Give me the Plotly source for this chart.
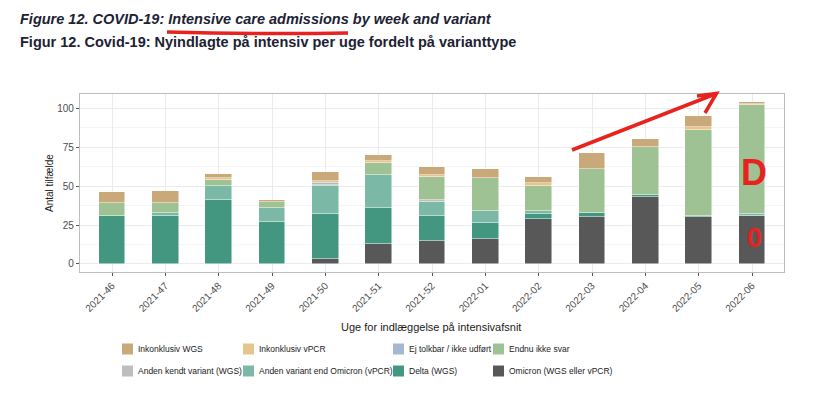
import plotly.graph_objects as go

# ---------------- data ----------------
weeks = ["2021-46", "2021-47", "2021-48", "2021-49", "2021-50", "2021-51", "2021-52",
         "2022-01", "2022-02", "2022-03", "2022-04", "2022-05", "2022-06"]

omicron     = [0, 0, 0, 0, 3, 13, 15, 16, 29, 30, 43, 30, 31]
delta       = [31, 31, 41, 27, 29, 23, 16, 10, 3, 3, 1, 1, 0]
anden_vpcr  = [0, 2, 9, 9, 18, 21, 9, 8, 2, 0, 0, 0, 1]
anden_kendt = [0, 0, 0, 0, 0, 0, 1, 0, 0, 0, 0, 0, 0]
endnu       = [8, 6, 4, 4, 1, 8, 15, 21, 16, 28, 31, 55, 70]
ej_tolkbar  = [0, 0, 0, 0, 1, 0, 0, 0, 0, 0, 0, 0, 0]
inkonk_vpcr = [0, 0, 1, 0, 1, 1, 1, 0, 2, 0, 0, 2, 1]
inkonk_wgs  = [7, 8, 3, 1, 6, 4, 5, 6, 4, 10, 5, 7, 1]

y_ticks = [0, 25, 50, 75, 100]

# stacking order bottom -> top
series = [
    ("Omicron (WGS eller vPCR)", omicron, "#585858"),
    ("Delta (WGS)", delta, "#43967F"),
    ("Anden variant end Omicron (vPCR)", anden_vpcr, "#7BB8A6"),
    ("Anden kendt variant (WGS)", anden_kendt, "#BEBEBE"),
    ("Endnu ikke svar", endnu, "#9EC294"),
    ("Ej tolkbar / ikke udført", ej_tolkbar, "#A5B7D3"),
    ("Inkonklusiv vPCR", inkonk_vpcr, "#E6C58D"),
    ("Inkonklusiv WGS", inkonk_wgs, "#C9A97A"),
]

# legend layout order (row-wise, as in reference)
legend_order = [
    "Inkonklusiv WGS", "Inkonklusiv vPCR", "Ej tolkbar / ikke udført", "Endnu ikke svar",
    "Anden kendt variant (WGS)", "Anden variant end Omicron (vPCR)", "Delta (WGS)",
    "Omicron (WGS eller vPCR)",
]

FONT = "Liberation Sans, Arial, Helvetica, sans-serif"
W, H = 835, 397
L, R, T, B = 80, 51, 94, 125
PW, PH = W - L - R, H - T - B


def px(xp):
    return (xp - L) / PW


def py(yp):
    return (H - B - yp) / PH


fig = go.Figure()
for name, vals, col in series:
    fig.add_trace(go.Bar(
        x=weeks, y=vals, name=name, width=0.5,
        marker=dict(color=col, line=dict(color="rgba(255,255,255,0.8)", width=0.6)),
        showlegend=False,
    ))

fig.update_layout(
    barmode="stack",
    width=W, height=H,
    margin=dict(l=L, r=R, t=T, b=B, pad=0),
    paper_bgcolor="white", plot_bgcolor="white",
    font=dict(family=FONT, size=10, color="#4D4D4D"),
    bargap=0,
)

fig.update_xaxes(
    type="category", range=[-0.6, 12.6],
    showgrid=True, gridcolor="#EBEBEB", gridwidth=1,
    showline=True, linecolor="#BDBDBD", linewidth=1.2, mirror=True,
    ticks="outside", ticklen=3, tickcolor="#555555", tickwidth=1,
    tickangle=-45, tickfont=dict(size=10, color="#4D4D4D"),
    zeroline=False,
)
fig.update_yaxes(
    range=[-5.2, 109.2], tickvals=y_ticks,
    showgrid=True, gridcolor="#EBEBEB", gridwidth=1,
    minor=dict(dtick=12.5, tick0=0, showgrid=True, gridcolor="#F4F4F4", gridwidth=0.6),
    showline=True, linecolor="#BDBDBD", linewidth=1.2, mirror=True,
    ticks="outside", ticklen=3, tickcolor="#555555", tickwidth=1,
    tickfont=dict(size=10, color="#4D4D4D"),
    zeroline=False,
)

ann = []
shapes = []

# titles
ann.append(dict(x=px(18), y=py(19), xref="paper", yref="paper", xanchor="left", yanchor="middle",
                text="<b><i>Figure 12. COVID-19: Intensive care admissions by week and variant</i></b>",
                showarrow=False, font=dict(family=FONT, size=14.5, color="#1C2233")))
ann.append(dict(x=px(18), y=py(42), xref="paper", yref="paper", xanchor="left", yanchor="middle",
                text="<b>Figur 12. Covid-19: Nyindlagte på intensiv per uge fordelt på varianttype</b>",
                showarrow=False, font=dict(family=FONT, size=14.5, color="#1C2233")))

# axis titles
ann.append(dict(x=px(431), y=py(327), xref="paper", yref="paper", xanchor="center", yanchor="middle",
                text="Uge for indlæggelse på intensivafsnit", showarrow=False,
                font=dict(family=FONT, size=11, color="#1A1A1A")))
ann.append(dict(x=px(49), y=py(183), xref="paper", yref="paper", xanchor="center", yanchor="middle",
                text="Antal tilfælde", textangle=-90, showarrow=False,
                font=dict(family=FONT, size=10, color="#1A1A1A")))

# manual legend
colors = {n: c for n, _, c in series}
col_x = [122, 243, 393, 493]
row_y = [349, 371]
for i, name in enumerate(legend_order):
    cx = col_x[i % 4]
    cy = row_y[i // 4]
    shapes.append(dict(type="rect", xref="paper", yref="paper",
                       x0=px(cx), x1=px(cx + 11), y0=py(cy - 5.5), y1=py(cy + 5.5),
                       fillcolor=colors[name], line=dict(width=0)))
    ann.append(dict(x=px(cx + 14), y=py(cy), xref="paper", yref="paper",
                    xanchor="left", yanchor="middle", text=name, showarrow=False,
                    font=dict(family=FONT, size=8.5, color="#1A1A1A")))

# red hand-drawn marks
RED = "#E8221E"
shapes.append(dict(type="path", xref="paper", yref="paper",
                   path=f"M {px(167)},{py(32)} Q {px(258)},{py(34.5)} {px(348)},{py(33)}",
                   line=dict(color=RED, width=3.5)))
shapes.append(dict(type="path", xref="paper", yref="paper",
                   path=(f"M {px(572)},{py(150)} L {px(716.5)},{py(93.5)} "
                         f"M {px(697)},{py(96)} L {px(716.5)},{py(93.5)} L {px(705)},{py(113)}"),
                   line=dict(color=RED, width=3.5)))
ann.append(dict(x=px(754), y=py(172), xref="paper", yref="paper", xanchor="center", yanchor="middle",
                text="<b>D</b>", showarrow=False, font=dict(family=FONT, size=36, color=RED)))
ann.append(dict(x=px(754), y=py(238), xref="paper", yref="paper", xanchor="center", yanchor="middle",
                text="<b>0</b>", showarrow=False, font=dict(family=FONT, size=27, color=RED)))

fig.update_layout(annotations=ann, shapes=shapes)

fig.write_html("out.html", config={"displayModeBar": False},
               post_script="document.body.style.margin='0';document.body.style.padding='0';")
